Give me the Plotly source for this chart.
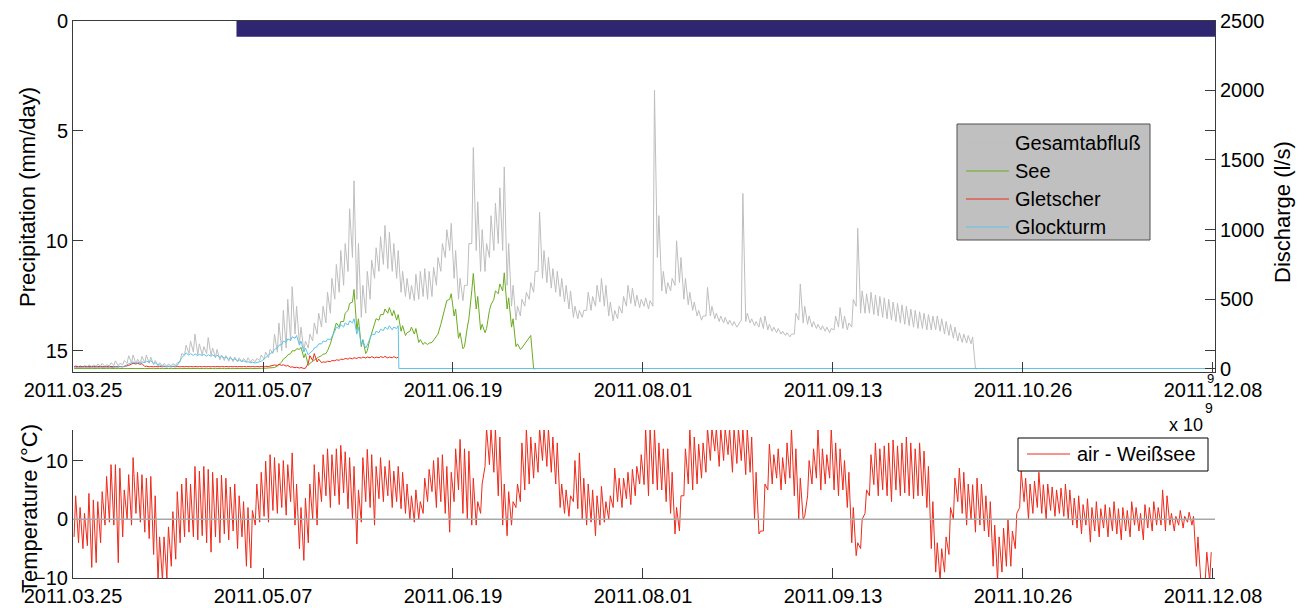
import pandas as pd
import plotly.graph_objects as go

W, H = 1301, 608
start = pd.Timestamp("2011-03-25")

tick_dates = ["2011-03-25", "2011-05-07", "2011-06-19", "2011-08-01",
              "2011-09-13", "2011-10-26", "2011-12-08"]
tick_text = [d.replace("-", ".") for d in tick_dates]
x_end = "2011-12-08 11:00"

# precipitation (mm/day), left axis of the upper panel
precip_dates = ["2011-05-01", x_end]
precip_mm = [0.73, 0.73]

# discharge (l/s): daily high / daily low, first value = 2011-03-25
gesamt_hi = [25, 22, 24, 30, 28, 35, 40, 30, 45, 58,
             40, 60, 95, 100, 70, 90, 100, 85, 60, 45,
             40, 35, 38, 45, 110, 170, 200, 250, 180, 160,
             225, 150, 140, 100, 95, 90, 85, 80, 75, 80,
             70, 75, 100, 120, 140, 250, 330, 420, 500, 590,
             450, 300, 200, 250, 330, 400, 450, 550, 650, 750,
             850, 900, 1150, 1350, 900, 600, 700, 780, 870, 950,
             1030, 980, 900, 850, 700, 650, 600, 680, 700, 720,
             700, 730, 800, 900, 1000, 1045, 850, 650, 600, 900,
             1590, 1200, 1000, 900, 1100, 1190, 1300, 1450, 900, 600,
             450, 500, 550, 620, 700, 1125, 850, 800, 720, 700,
             650, 600, 560, 450, 420, 420, 550, 520, 600, 650,
             600, 480, 420, 450, 520, 600, 580, 530, 500, 510,
             490, 2000, 1100, 700, 620, 650, 920, 800, 650, 550,
             480, 420, 380, 585, 450, 400, 380, 370, 350, 340,
             320, 1260, 400, 360, 340, 370, 380, 320, 300, 290,
             270, 260, 250, 400, 610, 450, 380, 340, 320, 310,
             300, 290, 380, 440, 380, 330, 500, 1010, 560, 540,
             550, 530, 520, 510, 500, 480, 470, 460, 450, 430,
             420, 410, 400, 390, 380, 380, 360, 340, 320, 300,
             260, 250, 240, 230, 0]
gesamt_lo = [15, 14, 15, 16, 15, 18, 20, 18, 22, 25,
             22, 30, 40, 45, 35, 40, 45, 40, 30, 25,
             22, 20, 22, 25, 50, 100, 110, 120, 100, 100,
             110, 95, 80, 65, 60, 55, 52, 50, 50, 50,
             48, 50, 60, 70, 80, 110, 120, 130, 150, 200,
             250, 180, 130, 150, 200, 250, 300, 330, 400, 500,
             550, 600, 700, 800, 500, 370, 400, 500, 650, 700,
             750, 720, 700, 650, 550, 520, 500, 490, 500, 520,
             500, 520, 600, 700, 800, 850, 650, 500, 490, 600,
             900, 850, 700, 700, 800, 850, 900, 850, 600, 450,
             350, 380, 450, 500, 550, 700, 650, 620, 580, 550,
             520, 480, 430, 370, 360, 370, 420, 420, 450, 480,
             450, 380, 345, 360, 400, 450, 470, 450, 440, 450,
             430, 450, 800, 560, 540, 560, 600, 620, 500, 460,
             420, 380, 350, 380, 380, 360, 340, 330, 320, 310,
             300, 350, 340, 330, 310, 300, 290, 280, 270, 260,
             250, 240, 230, 250, 350, 330, 320, 300, 290, 280,
             270, 260, 280, 300, 290, 280, 300, 450, 400, 400,
             400, 390, 380, 370, 360, 350, 340, 330, 320, 310,
             300, 290, 290, 280, 280, 280, 270, 250, 240, 220,
             200, 190, 185, 180, 0]

see_hi = [3, 3, 3, 3, 3, 3, 3, 3, 3, 3,
          3, 3, 3, 3, 3, 3, 3, 3, 3, 3,
          3, 3, 3, 3, 3, 3, 3, 3, 3, 3,
          3, 3, 3, 3, 3, 3, 3, 3, 3, 3,
          3, 3, 4, 5, 6, 10,
          30, 70, 100, 130, 145, 155, 110, 40, 65, 85,
          105, 130, 220, 330, 340, 400, 470, 570, 360, 210,
          130, 260, 360, 390, 430, 440, 420, 390, 310, 260,
          300, 290, 210, 190, 185, 205, 250, 360, 490, 540,
          430, 260, 160, 360, 685, 520, 320, 290, 460, 560,
          610, 690, 510, 360, 180, 150, 195, 240, 0]
see_lo = [2, 2, 2, 2, 2, 2, 2, 2, 2, 2,
          2, 2, 2, 2, 2, 2, 2, 2, 2, 2,
          2, 2, 2, 2, 2, 2, 2, 2, 2, 2,
          2, 2, 2, 2, 2, 2, 2, 2, 2, 2,
          2, 2, 3, 4, 5, 8,
          20, 50, 85, 110, 130, 140, 80, 25, 55, 75,
          95, 110, 180, 290, 300, 340, 420, 480, 280, 160,
          110, 220, 320, 350, 390, 400, 380, 350, 270, 240,
          270, 250, 190, 175, 175, 190, 230, 320, 440, 500,
          380, 220, 145, 300, 560, 430, 280, 260, 420, 500,
          540, 560, 430, 300, 160, 140, 180, 220, 0]

gletscher_hi = [18, 18, 18, 18, 18, 18, 18, 18, 18, 18,
                18, 18, 25, 40, 40, 38, 20, 17, 17, 17,
                17, 17, 17, 17, 17, 17, 17, 17, 17, 17,
                17, 17, 17, 17, 17, 17, 17, 17, 17, 17,
                17, 17, 18, 18, 20, 28, 32, 30, 25, 15,
                12, 10, 5, 95, 110, 70, 50, 55, 60, 65,
                70, 75, 78, 80, 82, 85, 85, 88, 85, 88,
                90, 85, 88, 85]
gletscher_lo = [15, 15, 15, 15, 15, 15, 15, 15, 15, 15,
                15, 15, 20, 35, 35, 33, 17, 15, 15, 15,
                15, 15, 15, 15, 15, 15, 15, 15, 15, 15,
                15, 15, 15, 15, 15, 15, 15, 15, 15, 15,
                15, 15, 15, 15, 17, 22, 25, 25, 20, 12,
                8, 6, 3, 40, 60, 50, 45, 48, 52, 58,
                62, 68, 70, 72, 75, 78, 78, 80, 78, 80,
                82, 78, 80, 78]

glockturm_hi = [10, 10, 10, 10, 10, 10, 10, 10, 10, 12,
                15, 20, 35, 50, 48, 50, 55, 60, 45, 30,
                22, 20, 20, 25, 80, 115, 110, 108, 105, 105,
                102, 100, 98, 90, 85, 78, 72, 65, 58, 52,
                48, 45, 55, 80, 110, 140, 170, 200, 215, 230,
                240, 200, 150, 115, 150, 180, 200, 215, 230, 300,
                320, 330, 345, 360, 300, 200, 170, 250, 270, 285,
                300, 310, 300, 310]
glockturm_lo = [8, 8, 8, 8, 8, 8, 8, 8, 8, 10,
                12, 15, 28, 40, 40, 42, 45, 48, 38, 25,
                18, 16, 16, 20, 60, 100, 98, 96, 95, 95,
                92, 90, 88, 82, 78, 70, 65, 58, 52, 47,
                44, 42, 48, 70, 95, 120, 150, 175, 190, 205,
                220, 170, 120, 100, 130, 160, 180, 195, 210, 270,
                290, 300, 315, 330, 250, 170, 150, 220, 245, 260,
                275, 285, 280, 290]
glockturm_tail_dates = ["2011-06-06 18:00", x_end]
glockturm_tail = [3, 3]

# air temperature Weißsee (°C): daily high / daily low
temp_hi = [4, 2, 1, 4.4, 3.3, 3, 4.7, 7.3, 9.3, 9.3,
           8.7, 5, 7.6, 10.5, 8, 7.6, 7, 7.3, 4, -3,
           -3, -1.3, 1.3, 4.7, 6, 7, 6, 9, 8.2, 9,
           8.5, 8, 7, 7.5, 7, 5.5, 6, 4, 3, 2,
           1.5, 6, 8, 9.9, 11, 10.5, 9.5, 10, 9.3, 11.3,
           6, 2, 3.6, 6, 9.3, 8, 11, 12, 11, 12,
           12.6, 11.5, 10.5, 9, 5, 10.5, 11.9, 11, 9, 10.5,
           9, 10, 8.2, 9, 8, 6, 4, 5, 3, 7,
           8.5, 10, 10.5, 11, 9, 8, 12, 13.6, 12, 11.6,
           7, 3, 6, 15.5, 15.5, 15.5, 14, 6, 4.7, 3,
           6, 13, 15.5, 14, 13, 15.5, 15.5, 15.5, 14, 13,
           6, 5, 4, 10, 11.3, 7, 6, 5, 4, 5.6,
           3, 4, 8.7, 7, 7, 8, 8.5, 9, 11, 15.5,
           15.5, 15.5, 13, 12, 12, 8, 2, 4, 12, 15.5,
           14, 12.8, 13, 15.5, 15.5, 15.5, 15.5, 15.5, 15.5, 15.5,
           15.5, 15.5, 15.5, 14, 8, -2, 6, 12.8, 11, 12,
           10.5, 13, 15.5, 12, 7, 0.5, 10, 12, 15.5, 12,
           11, 15.5, 13, 12, 10, 8, 2, -4, 0, 5,
           11, 13, 12, 12.5, 13, 13.5, 12.5, 13, 14, 13,
           12, 13, 11.6, 9, 3, -4, -5, -3, 2, 7,
           8.7, 8, 6, 5.9, 7, 6, 4, 3, -1, -3,
           -1.5, 0, -2, 1, 8.2, 7, 6, 6.5, 8, 5.9,
           6, 5.5, 5, 5.3, 6, 5, 3.6, 4, 2.5, 3.5,
           2, 3, 1.8, 2.5, 2, 3, 1.8, 2, 1.5, 3,
           2, 1, 2.5, 2, 3, 2, 5, 4, 1, 0.5,
           1.5, 0.5, 1.2, 0.5, -3, -10.5, -5.6, -5.6]
temp_lo = [-3, -4, -5, -4.5, -8.2, -7.4, -4, -1, -0.5, -1,
           -7.4, -3, 0, -1, 1, -0.5, -2.2, -3.3, -6, -10.5,
           -10.5, -10, -8, -6.8, -4, -3, -2.2, -3, -3.5, -2.8,
           -4, -5.6, -3, -4, -2.5, -3.5, -2, -5, -3, -8,
           -8.3, -1, -0.5, 0.5, -0.5, 1.5, 1, 2, 0.7, 3,
           -1, -5, -7, -4, 0, -1, 3, 4, 2, 4,
           2.5, 4.5, 1.8, 0, -4.2, -0.5, 3, 2, -1, 3.5,
           3, 4, 2, 3, 1.8, 1, 0, -0.5, 0, 1,
           3, 4.7, 2, 3, 1, -2.2, 3, 5, 1, 0,
           -1, -1, 1, 9, 9.3, 8, 4, -1, -2.8, -1,
           2, 3, 5, 6, 7, 8, 10, 9, 8, 6,
           2, 1, 0.5, 3, 1.8, 0, -1, -0.5, -2.8, -1,
           -0.5, 0, 2, 3, 2, 3.5, 2.5, 4, 6, 5.9,
           4, 6, 5, 5, 3, 1, -2.5, -2, 4, 6,
           5, 6, 7, 8, 10, 11.6, 9, 10, 11, 8,
           9.5, 10, 7.6, 8, 0, -2.5, -2, 5, 6, 7,
           5, 6, 7, 4, 0, 0, 4, 6, 7, 5,
           6, 7, 5, 4, 5, 2, -4, -6.2, -5, 1,
           4, 5.9, 4, 5, 4, 3, 5, 4, 4.5, 4,
           3.5, 4, 4, 2, -5, -9, -10.5, -9, -6, 0,
           3, 1, -1, 0, -2.2, -1, -2, -3, -8, -10.5,
           -9, -8, -8, -5, 2, 3, 0, 1, 2, 1,
           0, 1.5, 0.5, 1, 0.5, 0, -1, -1.5, -2.5, -1,
           -3.9, -2, -3, -1.5, -3, -2, -2.5, -3.5, -2, -3,
           -1, -2, -3.5, -1.5, -2, -1, -1, -2, -1, -2,
           -1, -1.5, -0.5, -1, -8, -10.5, -10.5, -10.5]


def zigzag(hi, lo):
    # low in the morning, high in the afternoon of each day
    days, vals = [], []
    for i, (h, l) in enumerate(zip(hi, lo)):
        days += [i + 0.25, i + 0.6]
        vals += [l, h]
    return list(start + pd.to_timedelta(days, unit="D")), vals


def px(x):
    return x / W


def py(y):
    return 1 - y / H


GRAY, GREEN, RED, CYAN = "#bebebe", "#6aab1f", "#ee2a1a", "#5cc3e8"
NAVY = "#2e2670"
AX = "#3a3a3a"
FONT = "Liberation Sans, Arial, Helvetica, sans-serif"

fig = go.Figure()

fig.add_trace(go.Scatter(x=precip_dates, y=precip_mm, mode="lines", fill="tozeroy",
                         fillcolor=NAVY, line=dict(width=0, color=NAVY),
                         xaxis="x", yaxis="y", name="Precipitation"))

gx, gy = zigzag(gesamt_hi, gesamt_lo)
fig.add_trace(go.Scatter(x=gx, y=gy, mode="lines", line=dict(color=GRAY, width=1),
                         xaxis="x", yaxis="y2", name="Gesamtabfluß"))
sx, sy = zigzag(see_hi, see_lo)
fig.add_trace(go.Scatter(x=sx, y=sy, mode="lines", line=dict(color=GREEN, width=1),
                         xaxis="x", yaxis="y2", name="See"))
rx, ry = zigzag(gletscher_hi, gletscher_lo)
fig.add_trace(go.Scatter(x=rx, y=ry, mode="lines", line=dict(color=RED, width=1),
                         xaxis="x", yaxis="y2", name="Gletscher"))
cx, cy = zigzag(glockturm_hi, glockturm_lo)
cx += list(pd.to_datetime(glockturm_tail_dates))
cy += glockturm_tail
fig.add_trace(go.Scatter(x=cx, y=cy, mode="lines", line=dict(color=CYAN, width=1),
                         xaxis="x", yaxis="y2", name="Glockturm"))

tx, ty = zigzag(temp_hi, temp_lo)
fig.add_trace(go.Scatter(x=tx, y=ty, mode="lines", line=dict(color=RED, width=1),
                         xaxis="x2", yaxis="y3", name="air - Weißsee"))

dom_x = [px(73), px(1215)]
common = dict(showgrid=False, zeroline=False, showline=True, linecolor=AX, linewidth=1,
              ticks="inside", ticklen=10, tickcolor=AX, automargin=False,
              tickfont=dict(size=20, color="black"))

fig.update_layout(
    width=W, height=H, margin=dict(l=0, r=0, t=0, b=0),
    paper_bgcolor="white", plot_bgcolor="white", showlegend=False,
    font=dict(family=FONT, size=20, color="black"),
    xaxis=dict(domain=dom_x, anchor="y", type="date", range=["2011-03-25", x_end],
               tickvals=tick_dates, ticktext=tick_text, mirror=True, **common),
    yaxis=dict(domain=[py(371.6), py(20.7)], anchor="x", range=[15.95, 0],
               tickvals=[0, 5, 10, 15], mirror="ticks", **common),
    yaxis2=dict(overlaying="y", side="right", anchor="x", range=[-19.4, 2500],
                tickvals=[0, 500, 1000, 1500, 2000, 2500], **common),
    xaxis2=dict(domain=dom_x, anchor="y3", type="date", range=["2011-03-25", x_end],
                tickvals=tick_dates, ticktext=tick_text, **common),
    yaxis3=dict(domain=[py(578), py(430)], anchor="x2", range=[-10, 15.2],
                tickvals=[-10, 0, 10], **common),
)

# zero line of the temperature panel
fig.add_shape(type="line", xref="x2 domain", yref="y3", x0=0, x1=1, y0=0, y1=0,
              line=dict(color="#a8a8a8", width=1.5), layer="above")


def label(text, x, y, size, angle=0, xanchor="center"):
    fig.add_annotation(x=px(x), y=py(y), xref="paper", yref="paper", text=text,
                       textangle=angle, showarrow=False, xanchor=xanchor, yanchor="middle",
                       font=dict(size=size, color="black"))


# legend of the upper panel
fig.add_shape(type="rect", xref="paper", yref="paper", x0=px(957), x1=px(1150),
              y0=py(240), y1=py(124), fillcolor="#c0c0c0", line=dict(color="#505050", width=1),
              layer="above")
for i, (name, col) in enumerate([("Gesamtabfluß", GRAY), ("See", GREEN),
                                 ("Gletscher", RED), ("Glockturm", CYAN)]):
    yy = 143 + 28 * i
    fig.add_shape(type="line", xref="paper", yref="paper", x0=px(966), x1=px(1009),
                  y0=py(yy), y1=py(yy), line=dict(color=col, width=1), layer="above")
    label(name, 1013, yy, 20, xanchor="left")

# legend of the lower panel
fig.add_shape(type="rect", xref="paper", yref="paper", x0=px(1018), x1=px(1208),
              y0=py(471), y1=py(438), fillcolor="white", line=dict(color="black", width=1),
              layer="above")
fig.add_shape(type="line", xref="paper", yref="paper", x0=px(1027), x1=px(1070),
              y0=py(454), y1=py(454), line=dict(color=RED, width=1), layer="above")
label("air - Weißsee", 1075, 454, 20, xanchor="left")

# axis titles
label("Precipitation (mm/day)", 27, 197, 22, angle=-90)
label("Discharge (l/s)", 1283, 212, 22, angle=-90)
label("Temperature (°C)", 29, 509, 22, angle=-90)

# exponent leftovers of the original figure
label("x 10", 1186, 425, 18)
label("9", 1209, 408, 14)
label("9", 1210, 378, 13)

# the page has a default body margin; drop it so the figure sits at the window origin
fig.write_html("out.html", config={"displayModeBar": False},
               post_script="document.body.style.margin='0px';")
